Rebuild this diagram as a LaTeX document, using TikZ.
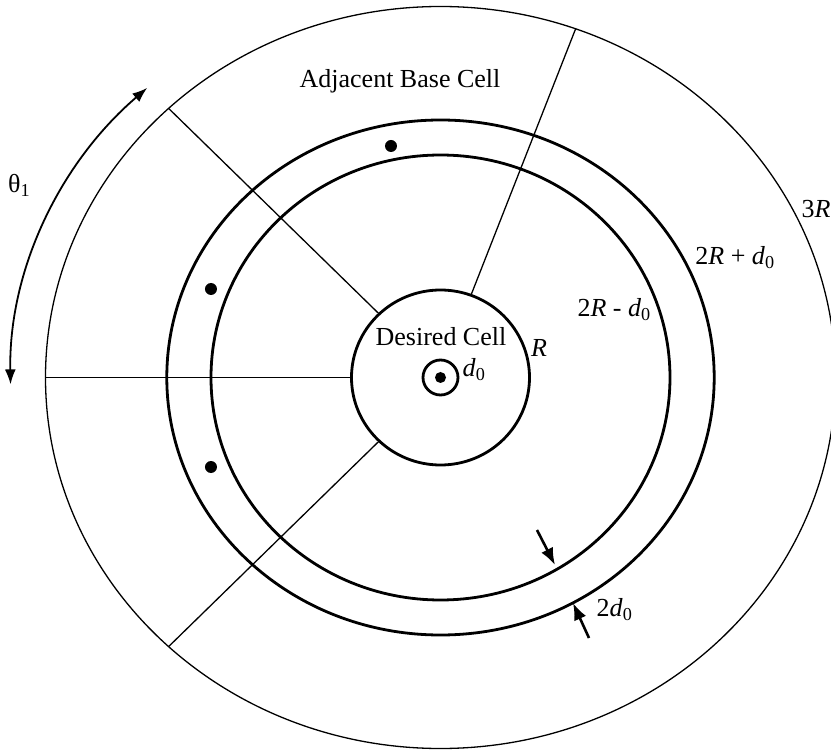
\documentclass[tikz,border=0pt]{standalone}
\usepackage{fontspec}
\setmainfont{Liberation Serif}
\usetikzlibrary{arrows.meta, positioning}

\begin{document}
\begin{tikzpicture}[x=1bp, y=1bp,
    ring/.style={line width=2.8bp},
    spoke/.style={line width=1.3bp},
    gap arrow/.style={line width=2.6bp, -{Latex[length=17bp, width=13bp]}},
    lbl/.style={font=\fontsize{26bp}{30bp}\selectfont, inner sep=0pt}]
    \useasboundingbox (-440.5,-373.5) rectangle (390.5,377.5);
    \coordinate (O) at (0,0);

    % Outer ring of adjacent cells (3R)
    \draw[spoke] (O) ellipse [x radius=395, y radius=371];

    % Rings 2R - d0 and 2R + d0
    \draw[ring] (O) ellipse [x radius=229.5, y radius=222.5];
    \draw[ring] (O) ellipse [x radius=273.7, y radius=257.5];

    % Desired cell
    \draw[ring] (O) ellipse [x radius=89, y radius=87.5];

    % Cell boundaries
    \foreach \a in {70,133.5,180,226.5}
        \draw[spoke] (\a:89 and 87.5) -- (\a:395 and 371);

    % Base station of the desired cell
    \draw[ring] (O) circle (17.5);
    \fill (O) circle (5.5);

    % Users in the ring
    \fill (-49.5,231.5) circle (6);
    \fill (-229.5,88.5) circle (6);
    \fill (-229.5,-89.5) circle (6);

    % Labels
    \node[lbl, anchor=base] (adj) at (-40.5,289.5) {Adjacent Base Cell};
    \node[lbl, anchor=base] (des) at (0.5,31.5) {Desired Cell};
    \node[lbl, anchor=base] (rR) at (98.5,21) {\textit{R}};
    \node[lbl, anchor=base west] (rd) at (22,1) {\textit{d}\textsubscript{0}};
    \node[lbl, anchor=base] (rin) at (173.7,61) {2\textit{R} - \textit{d}\textsubscript{0}};
    \node[lbl, anchor=base] (rout) at (294.5,113) {2\textit{R} + \textit{d}\textsubscript{0}};
    \node[lbl, anchor=base west] (r3) at (361,160) {3\textit{R}};
    \node[lbl, anchor=base west] (th) at (-432.5,184.5) {θ\textsubscript{1}};
    \node[lbl, anchor=base west] (gap) at (156,-239) {2\textit{d}\textsubscript{0}};

    % Angle arc
    \draw[line width=1.8bp, {Latex[length=15bp, width=11bp]}-{Latex[length=15bp, width=11bp]}]
        (133:430 and 396) arc[start angle=133, end angle=181, x radius=430, y radius=396];

    % Ring width arrows
    \coordinate (inTail) at (96.5,-152.5);
    \coordinate (inTip) at (114.5,-187.5);
    \coordinate (outTail) at (148.5,-260.5);
    \coordinate (outTip) at (132.5,-225.5);
    \draw[gap arrow] (inTail) -- (inTip);
    \draw[gap arrow] (outTail) -- (outTip);
\end{tikzpicture}
\end{document}
